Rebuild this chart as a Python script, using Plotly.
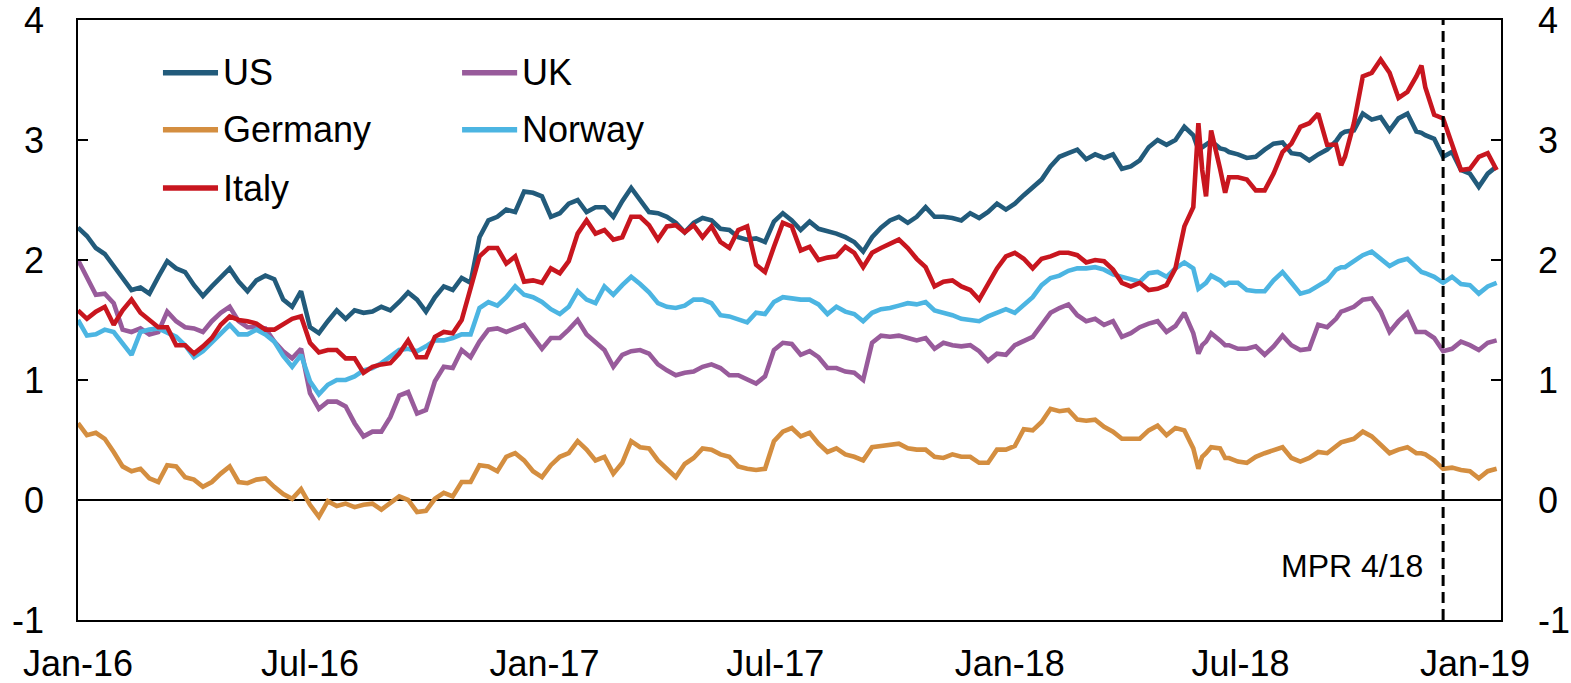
import pandas as pd
import plotly.graph_objects as go

# ---------------- data (10-year government bond yields, percent) ----------------
week_start = "2016-01-01"
n_weeks = 160

us = [2.27, 2.20, 2.10, 2.05, 1.95, 1.85, 1.75, 1.77, 1.72, 1.86, 1.99, 1.93, 1.90, 1.79, 1.70, 1.78, 1.85, 1.93, 1.82, 1.74, 1.83, 1.87, 1.84, 1.67,
      1.61, 1.74, 1.44, 1.39, 1.49, 1.58, 1.51, 1.58, 1.56, 1.57, 1.61, 1.58, 1.65, 1.73, 1.67, 1.57, 1.69, 1.78, 1.75, 1.85, 1.81, 2.19, 2.33,
      2.36, 2.42, 2.40, 2.57, 2.56, 2.53, 2.36, 2.39, 2.47, 2.50, 2.40, 2.44, 2.44, 2.36, 2.49, 2.60, 2.50, 2.40, 2.39, 2.36, 2.31, 2.23,
      2.31, 2.35, 2.33, 2.26, 2.25, 2.19, 2.17, 2.18, 2.15, 2.32, 2.39, 2.33, 2.25, 2.32, 2.26, 2.24, 2.22, 2.19, 2.15, 2.07, 2.19, 2.27,
      2.33, 2.36, 2.31, 2.36, 2.44, 2.36, 2.36, 2.35, 2.33, 2.39, 2.35, 2.40, 2.47, 2.42, 2.47, 2.54, 2.61, 2.67, 2.78, 2.86, 2.89, 2.92, 2.84,
      2.88, 2.85, 2.88, 2.76, 2.78, 2.83, 2.94, 3.00, 2.96, 3.00, 3.11, 3.04, 2.94, 2.99, 2.93, 2.90, 2.88, 2.85, 2.86, 2.92, 2.97, 2.98,
      2.89, 2.88, 2.83, 2.88, 2.92, 2.99, 3.07, 3.08, 3.22, 3.17, 3.19, 3.08, 3.18, 3.22, 3.07, 3.04, 3.01, 2.86, 2.90, 2.75, 2.72, 2.61, 2.72, 2.78]

uk = [2.00, 1.86, 1.71, 1.72, 1.64, 1.42, 1.40, 1.43, 1.38, 1.40, 1.57, 1.49, 1.44, 1.43, 1.40, 1.49, 1.56, 1.61, 1.49, 1.44, 1.44, 1.43, 1.32, 1.24,
      1.18, 1.26, 0.89, 0.76, 0.82, 0.82, 0.78, 0.64, 0.53, 0.57, 0.57, 0.69, 0.87, 0.90, 0.72, 0.75, 0.99, 1.11, 1.10, 1.25, 1.19, 1.32, 1.42,
      1.43, 1.40, 1.43, 1.46, 1.36, 1.26, 1.35, 1.35, 1.42, 1.50, 1.38, 1.31, 1.25, 1.11, 1.21, 1.24, 1.25, 1.22, 1.13, 1.08, 1.04, 1.06,
      1.07, 1.11, 1.13, 1.10, 1.04, 1.04, 1.00, 0.97, 1.03, 1.25, 1.31, 1.30, 1.21, 1.24, 1.19, 1.10, 1.10, 1.07, 1.06, 1.00, 1.31, 1.37,
      1.36, 1.37, 1.35, 1.33, 1.35, 1.26, 1.31, 1.29, 1.28, 1.29, 1.24, 1.16, 1.22, 1.21, 1.29, 1.33, 1.36, 1.46, 1.56, 1.60, 1.63, 1.54, 1.49,
      1.51, 1.46, 1.49, 1.36, 1.39, 1.44, 1.47, 1.49, 1.40, 1.45, 1.56, 1.39, 1.29, 1.39, 1.33, 1.29, 1.26, 1.26, 1.28, 1.21, 1.28, 1.37,
      1.29, 1.25, 1.26, 1.46, 1.44, 1.51, 1.58, 1.61, 1.67, 1.68, 1.57, 1.40, 1.49, 1.56, 1.40, 1.40, 1.35, 1.24, 1.26, 1.32, 1.29, 1.25, 1.31, 1.33]

germany = [0.64, 0.54, 0.56, 0.51, 0.40, 0.28, 0.24, 0.26, 0.18, 0.15, 0.29, 0.28, 0.19, 0.17, 0.11, 0.15, 0.22, 0.28, 0.15, 0.14, 0.17, 0.18, 0.11, 0.05,
           0.01, 0.09, -0.04, -0.14, -0.01, -0.05, -0.03, -0.06, -0.04, -0.03, -0.08, -0.03, 0.03, 0.00, -0.10, -0.09, 0.01, 0.06, 0.03, 0.15, 0.15, 0.29, 0.28,
           0.24, 0.36, 0.39, 0.33, 0.24, 0.19, 0.29, 0.36, 0.39, 0.49, 0.42, 0.33, 0.36, 0.22, 0.31, 0.49, 0.44, 0.43, 0.33, 0.26, 0.19, 0.30,
           0.35, 0.43, 0.42, 0.38, 0.36, 0.28, 0.26, 0.25, 0.26, 0.49, 0.57, 0.60, 0.53, 0.56, 0.47, 0.40, 0.43, 0.38, 0.36, 0.33, 0.44, 0.45,
           0.46, 0.47, 0.43, 0.42, 0.42, 0.36, 0.35, 0.38, 0.36, 0.36, 0.31, 0.31, 0.42, 0.42, 0.45, 0.59, 0.58, 0.65, 0.76, 0.74, 0.75, 0.67, 0.66,
           0.67, 0.61, 0.57, 0.51, 0.51, 0.51, 0.58, 0.62, 0.54, 0.60, 0.58, 0.43, 0.36, 0.44, 0.43, 0.35, 0.32, 0.31, 0.36, 0.39, 0.42, 0.44,
           0.35, 0.32, 0.35, 0.40, 0.39, 0.45, 0.49, 0.51, 0.57, 0.53, 0.46, 0.39, 0.42, 0.44, 0.39, 0.38, 0.33, 0.26, 0.27, 0.25, 0.24, 0.18, 0.24, 0.26]

norway = [1.50, 1.37, 1.38, 1.42, 1.40, 1.31, 1.21, 1.40, 1.42, 1.43, 1.39, 1.36, 1.29, 1.19, 1.24, 1.31, 1.39, 1.46, 1.38, 1.38, 1.42, 1.38, 1.32, 1.20,
          1.11, 1.21, 0.99, 0.88, 0.96, 1.00, 1.00, 1.03, 1.08, 1.10, 1.14, 1.19, 1.25, 1.26, 1.24, 1.28, 1.33, 1.33, 1.35, 1.38, 1.38, 1.60, 1.65,
          1.62, 1.69, 1.78, 1.71, 1.69, 1.65, 1.59, 1.55, 1.61, 1.74, 1.67, 1.64, 1.78, 1.71, 1.79, 1.86, 1.80, 1.73, 1.64, 1.61, 1.60, 1.62,
          1.67, 1.67, 1.64, 1.54, 1.53, 1.50, 1.48, 1.56, 1.55, 1.65, 1.69, 1.68, 1.67, 1.67, 1.63, 1.55, 1.61, 1.57, 1.55, 1.49, 1.56, 1.59,
          1.60, 1.62, 1.64, 1.63, 1.65, 1.58, 1.56, 1.54, 1.51, 1.50, 1.49, 1.53, 1.56, 1.59, 1.56, 1.63, 1.69, 1.79, 1.85, 1.87, 1.91, 1.93, 1.93,
          1.94, 1.92, 1.88, 1.86, 1.84, 1.82, 1.89, 1.90, 1.86, 1.93, 1.98, 1.93, 1.78, 1.87, 1.83, 1.81, 1.81, 1.75, 1.74, 1.74, 1.83, 1.90,
          1.81, 1.72, 1.74, 1.79, 1.83, 1.92, 1.94, 1.99, 2.04, 2.07, 2.01, 1.95, 1.99, 2.01, 1.94, 1.89, 1.86, 1.81, 1.86, 1.80, 1.79, 1.72, 1.78, 1.81]

italy = [1.58, 1.51, 1.57, 1.61, 1.46, 1.58, 1.67, 1.56, 1.50, 1.44, 1.44, 1.29, 1.29, 1.22, 1.28, 1.35, 1.46, 1.53, 1.50, 1.49, 1.47, 1.42, 1.42, 1.46,
         1.51, 1.53, 1.31, 1.23, 1.25, 1.25, 1.18, 1.18, 1.06, 1.11, 1.13, 1.14, 1.22, 1.33, 1.19, 1.19, 1.36, 1.40, 1.39, 1.50, 1.75, 2.03, 2.10,
         2.10, 1.97, 2.03, 1.82, 1.83, 1.81, 1.93, 1.89, 1.99, 2.22, 2.33, 2.22, 2.25, 2.17, 2.19, 2.36, 2.36, 2.29, 2.17, 2.28, 2.29, 2.23,
         2.29, 2.19, 2.28, 2.15, 2.10, 2.25, 2.28, 1.96, 1.90, 2.11, 2.31, 2.28, 2.08, 2.11, 2.00, 2.02, 2.03, 2.11, 2.06, 1.94, 2.06, 2.10,
         2.14, 2.17, 2.10, 2.01, 1.94, 1.78, 1.82, 1.83, 1.78, 1.75, 1.67, 1.81, 1.93, 2.03, 2.06, 2.01, 1.93, 2.01, 2.03, 2.06, 2.06, 2.04, 1.98,
         2.00, 1.99, 1.92, 1.81, 1.78, 1.81, 1.75, 1.76, 1.79, 1.93, 2.28, 2.44, 2.75, 3.08, 2.76, 2.69, 2.69, 2.67, 2.58, 2.58, 2.72, 2.90,
         2.97, 3.11, 3.14, 3.22, 2.96, 2.96, 2.86, 3.14, 3.53, 3.56, 3.67, 3.56, 3.35, 3.40, 3.53, 3.44, 3.21, 3.18, 2.97, 2.75, 2.76, 2.86, 2.89, 2.75]

# a few extra daily observations around sharp moves
extra_dates = ["2018-05-29", "2018-06-04", "2018-06-19", "2018-09-18", "2018-11-20"]
us_extra = [2.92, 2.96, 2.92, 3.05, 3.06]
uk_extra = [1.22, 1.32, 1.29, 1.57, 1.40]
germany_extra = [0.26, 0.39, 0.35, 0.48, 0.39]
norway_extra = [1.76, 1.81, 1.79, 1.94, 1.90]
italy_extra = [3.14, 2.53, 2.56, 2.79, 3.62]

series_names = ["US", "UK", "Germany", "Norway", "Italy"]
series_main = [us, uk, germany, norway, italy]
series_extra = [us_extra, uk_extra, germany_extra, norway_extra, italy_extra]
colors = ["#225B7B", "#985B9B", "#D48E40", "#4CB5E2", "#C8161F"]

x_tickvals = ["2016-01-01", "2016-07-01", "2017-01-01", "2017-07-01", "2018-01-01", "2018-07-01", "2019-01-01"]
x_ticktext = ["Jan-16", "Jul-16", "Jan-17", "Jul-17", "Jan-18", "Jul-18", "Jan-19"]
y_tickvals = [-1, 0, 1, 2, 3, 4]
y_ticktext = ["-1", "0", "1", "2", "3", "4"]
x_range = ["2016-01-01", "2019-01-21 10:00"]
mpr_date = "2018-12-07"
mpr_label = "MPR 4/18"

# ---------------- figure ----------------
grid = list(pd.date_range(week_start, periods=n_weeks, freq="7D")) + list(pd.to_datetime(extra_dates))

fig = go.Figure()
for name, main, extra, col in zip(series_names, series_main, series_extra, colors):
    assert len(main) == n_weeks, (name, len(main))
    s = pd.Series(main + extra, index=grid).sort_index()
    fig.add_trace(go.Scatter(x=s.index, y=s.values, mode="lines", name=name,
                             line=dict(color=col, width=4.6), showlegend=False,
                             hoverinfo="x+y+name"))

# helper traces so the overlay axes are drawn
fig.add_trace(go.Scatter(x=[], y=[], xaxis="x2", yaxis="y", showlegend=False, hoverinfo="skip"))
fig.add_trace(go.Scatter(x=[], y=[], xaxis="x", yaxis="y2", showlegend=False, hoverinfo="skip"))

FONT = "Arial, 'Liberation Sans', sans-serif"
TICKFONT = dict(family=FONT, size=36, color="black")

fig.update_layout(
    width=1571, height=683,
    margin=dict(l=78, r=70, t=20, b=63),
    plot_bgcolor="white", paper_bgcolor="white",
    font=dict(family=FONT, size=36, color="black"),
    showlegend=False,
    xaxis=dict(range=x_range, tickmode="array", tickvals=x_tickvals, ticktext=x_ticktext,
               ticks="", showline=True, linecolor="black", linewidth=1.6, mirror=True,
               showgrid=False, zeroline=False, tickfont=TICKFONT, ticklabelstandoff=11,
               automargin=False, ticklabeloverflow="allow"),
    xaxis2=dict(range=x_range, overlaying="x", anchor="free", position=0.2,
                tickmode="array", tickvals=x_tickvals, ticks="inside", ticklen=11,
                tickwidth=1.6, tickcolor="black", showticklabels=False,
                showline=False, showgrid=False, zeroline=False, automargin=False),
    yaxis=dict(range=[-1, 4], tickmode="array", tickvals=y_tickvals, ticktext=y_ticktext,
               ticks="inside", ticklen=10, tickwidth=1.6, tickcolor="black", showline=True,
               linecolor="black", linewidth=1.6, showgrid=False, zeroline=True,
               zerolinecolor="black", zerolinewidth=1.6, tickfont=TICKFONT,
               ticklabelstandoff=25, automargin=False, ticklabeloverflow="allow"),
    yaxis2=dict(range=[-1, 4], overlaying="y", side="right", anchor="x",
                tickmode="array", tickvals=y_tickvals, ticktext=y_ticktext, ticks="inside",
                ticklen=10, tickwidth=1.6, tickcolor="black", showline=True,
                linecolor="black", linewidth=1.6, showgrid=False, zeroline=False,
                tickfont=TICKFONT, ticklabelstandoff=28, automargin=False,
                ticklabeloverflow="allow"),
)

# MPR vertical dashed line and its label
fig.add_shape(type="line", xref="x", yref="paper", x0=mpr_date, x1=mpr_date, y0=0, y1=1,
              line=dict(color="black", width=3, dash="11px,6px"))
fig.add_annotation(x=mpr_date, xref="x", y=0.09, yref="paper", text=mpr_label,
                   showarrow=False, xanchor="right", yanchor="middle", xshift=-18,
                   font=dict(family=FONT, size=32, color="black"))

# manual legend (two columns)
legend_cols = [0.0597, 0.2699]
legend_rows = [0.912, 0.817, 0.720]
sample_len = 0.0387
for k, (name, col) in enumerate(zip(series_names, colors)):
    cx = legend_cols[k % 2]
    ry = legend_rows[k // 2]
    fig.add_shape(type="line", xref="paper", yref="paper", x0=cx, x1=cx + sample_len,
                  y0=ry, y1=ry, line=dict(color=col, width=5.5))
    fig.add_annotation(x=cx + sample_len + 0.002, y=ry, xref="paper", yref="paper",
                       text=name, showarrow=False, xanchor="left", yanchor="middle",
                       font=dict(family=FONT, size=36, color="black"))

# remove the default page margin so the figure fills the window exactly
fig.write_html("out.html", config={"displayModeBar": False},
               post_script="document.body.style.margin='0px';document.body.style.overflow='hidden';")
